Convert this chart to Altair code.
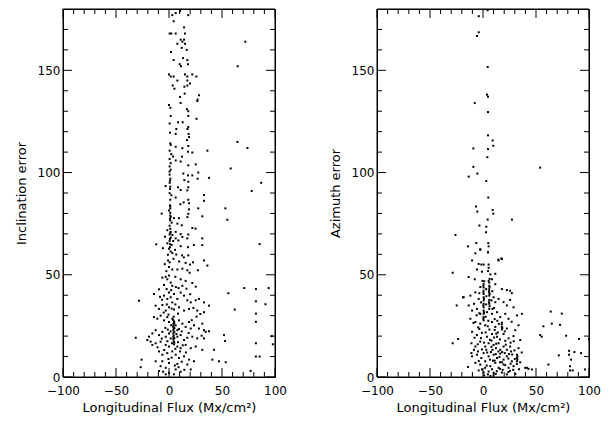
import altair as alt
import pandas as pd

# ---- data (flux in Mx/cm^2, error in degrees) ----
incl_points = [
    (3.1,177),(6.3,178),(10.4,179),(18.2,177),(4.4,174),(14.2,171),(0.6,168),(2.2,168),(6.3,168),(15.1,168),
    (11,165),(14.2,165),(12.6,164),(7.9,163),(15.1,163),(12,161),(16.7,160),(1.9,159),(13.2,156),(17.3,155),
    (4.4,155),(10.1,153),(17.9,153),(11.3,152),(64.8,152),(0,148),(1.6,147),(4.4,147),(15.1,148),(17.3,147),
    (22,148),(25.8,147),(7.9,145),(17.3,145),(19.8,143.6),(3.5,142.6),(17.3,142.6),(14.5,142),(5.1,141),(14.8,138.6),
    (28.3,137.8),(10.4,137),(27,135.7),(26.7,135),(11,134),(0,133),(1.3,131.7),(17,131),(18.2,130),(1.6,127.7),
    (18.2,127.7),(26,126.3),(0.6,124),(8.5,124.6),(12.9,124.6),(18.2,122.3),(17.5,121.3),(6.9,121.3),(1,119.5),(6.3,118.9),
    (18.5,118.9),(72,164),
    (18.9,117.4),(17,115.9),(64.5,115),(1.2,114.3),(1.6,113.5),(6.3,112.6),(18.2,113),(12.6,111.9),(0.6,110.7),(17.9,110.2),
    (22,109.8),(36.2,110.7),(2.2,109),(3.8,107.8),(12.3,107.8),(0.6,106.6),(6.3,105.9),(11,105.4),(1.6,104.6),(25.2,104),
    (0.6,103),(18.2,103.5),(58.2,102),(1.6,101.4),(27.6,100),(13.5,99.5),(0.6,99),(17.9,98.6),(22,98.6),(37.7,97.4),
    (1.2,97),(14.5,96.3),(18.2,95.5),(27,97),(0.6,95),(-3.2,93.4),(1.2,93.1),(8.5,92.8),(18.2,92.8),(11,91.5),
    (17.3,91.3),(0.6,89.9),(2.2,88.9),(33,89),(6.3,87.8),(1.2,86.7),(18.2,86.7),(13.8,85.4),(10.7,84.5),(18.9,85),
    (33,86.2),(1.2,83.5),(1.2,82.5),(0,81.4),(18.9,82),(27.6,82.5),(53.2,82.5),(1.2,80.3),(18.2,79.8),(-6.9,79.9),
    (1.6,78.2),(4.7,77.7),(9.4,77.7),(17.3,78.2),(31.4,78.6),(55,76.9),(1.2,76.6),(2.5,75.5),(7.9,75),(12,74.2),
    (0.6,74),(22,72.9),(25,72.6),(-1.6,71.8),(1.6,71),(6.3,71),(0.6,69.7),(3.2,69.5),(11,69.9),(18.2,69.7),
    (31.4,67.8),(-3.8,68.6),(1.6,68.2),(0.6,66.5),(4,66.5),(6.3,67.8),(8.8,66.8),(12.6,68.5),(17.3,67.8),(-1.6,65.4),
    (2.5,64.6),(-12,64.9),(23.5,64.6),(-5.7,63),(0,62.7),(5.7,62.2),(11,64),(17.9,63.5),(31.4,64.5),(1.6,61.4),
    (3.2,60.6),(12.3,59.5),(18.2,59.5),(-1,59.8),(74,112),(87,95),(78,91),(85.5,65),
    (0.9,63.5),(0.9,65),(0.9,67.5),(1.2,70.5),(1.2,72.5),(0.9,77.3),(1.2,79),(0.9,84),(0.9,92),(1,96),(0.5,100.5),
    (6.9,59.9),(-0.9,57),(0.6,56.1),(15.7,55.8),(19.8,55),(22.6,56.1),(33,57),(36.2,54.5),(0,53.8),(3.1,52.6),
    (7.9,52.6),(-2.5,51.8),(17.3,52.2),(19.5,51),(12.6,53),(27.3,52.2),(-6.3,48.6),(-3.1,49),(-1.6,47.8),(0,49.7),
    (1.6,46.2),(3.1,44.6),(11,47.8),(12.6,44.6),(15.7,47),(25.2,44.2),(-14.2,40.6),(-9.4,42.9),(-4.7,39.8),(-1.6,38.2),
    (0,41.3),(1.6,39),(3.1,36.5),(4.7,40.6),(7.9,38.2),(11,41.3),(14.2,39.8),(17.3,37.5),(20.5,36.5),(25.2,37.5),
    (28.3,38.2),(33,36.5),(37.7,34.9),(-28.3,37.3),(-12.6,34.9),(-9.4,33.3),(-6.3,35.2),(-3.1,32.5),(0,34.1),(4.7,33),
    (9.4,34.1),(14.2,32.5),(18.9,33.3),(26.7,32.5),(33,31.7),(-14.2,29.3),(-11,28.5),(-7.9,30),(-4.7,27.7),(-1.6,29.3),
    (0,26.9),(3.1,28.5),(4.1,26.1),(4.1,24.5),(4.1,22.9),(4.1,21.3),(4.1,19.7),(4.1,18.6),(4.7,27.2),(6.3,25.3),
    (7.9,22.9),(9.4,27.7),(12.6,26.1),(15.7,24.5),(18.9,26.9),(20.5,23.7),(23.6,25.3),(28.3,23.7),(31.4,26.1),(33,22.9),
    (34.6,22.1),(37.7,22.4),(-18.9,19.7),(-15.7,21.3),(-12.6,22.9),(-9.4,20.5),(-6.3,22.1),(-3.1,19.7),(0,21.3),(1.6,18.9),
    (7.9,19.7),(11,20.5),(14.2,18.1),(17.3,19.2),(22,19.7),(26.7,18.9),(30.8,20.2),(33,18.9),(-31.4,19.2),(51.9,20.5),
    (52.9,17.6),(-20.5,18.1),(-17.3,17.3),(-15.7,15.7),(-12.6,16.5),(-7.9,17.3),(-3.1,15.7),(0,14.9),(4.7,16),(7.9,14.9),
    (11,14.1),(15.7,15.7),(20.5,14.1),(25.2,14.9),(31.4,13.3),(42.4,13.3),(-9.4,12.5),(-6.3,10.9),(-1.6,11.7),(3.1,12.5),
    (6.3,10.9),(9.4,9.3),(14.2,10.1),(18.9,8.5),(23.6,7.7),(40.9,8.5),(-25.8,8.5),(-12.6,7.7),(-6.3,7.7),(0,6.9),
    (7.9,6.4),(17.3,6.1),(-7.9,5.3),(-3.1,4.5),(6.3,3.7),(20.5,3.7),(-26.7,4.8),(-9.4,2.9),(0,2.1),(11,2.6),
    (-3.1,1.3),(4.7,1.3),(47.2,7.7),(53.5,7.2),
    (4.4,17.5),(4.4,20.3),(4.4,23.7),(4.4,25.3),(3.8,28),(4.4,29.5),(5,16.8),(5,19),(5,22),(5,24),(5,26.5),
    (56,41),(71,43.5),(82,43),(94,43.5),(82,37),(91,35.6),(62,33),(82,31),(82,27),(82,16.5),
    (98,16),(97,20),(82,10),(85.5,10),(77,3),
    (-4.7,45),(-2.2,43),(2,42.5),(6.5,44),(9,43.5),(-6.5,37.8),(-8.5,39.2),(-2,35.5),(2.5,33.5),(6,35.5),
    (8.5,31),(-5,31.5),(-0.5,30.5),(2,25.3),(-3.5,24),(-1.2,23.2),(1.5,22.3),(7,21),(9.5,23.5),(12,22.3),
    (-6.8,18.8),(-1.5,17.5),(2.8,16.5),(6,13.8),(8.5,17),(10.5,12.5),(13,15.5),(16,12),(-4.5,13.2),(-10.8,14.5),
    (2.5,9.5),(12,7.5),(-0.5,8.8),(5.5,5.6),(9,4.8),(14.5,3.5),(-5.5,2.6),(18.5,21.5),(21.5,27.8),(26,29.5),
    (29.5,30.8),(23,33.8),(20,40.5),(16.5,43.2),(22,46),(6,49),(9.5,56.5),(4.2,57.8),(-4,55.2),(14,58.5),
]

azim_points = [
    (4.4,179.4),(-4,176.5),(-4,168.6),(-5.6,166.8),(4.4,151.6),(3.8,138.1),(4.7,137.1),(-7.8,134),(4.7,129.6),(4.7,118.2),
    (9.1,115.7),(9.7,113.1),(-9.1,111.8),(4.7,111.5),(4.1,107.5),(-9.1,102.8),(53.9,102.4),(-5.3,99.5),(-13.5,98),(3.1,95.9),
    (5,87.8),(-6.6,83.4),(9.1,81.7),(9.7,79.9),(-5.3,80.9),(4.4,77),(27.3,77),(-3.4,74.1),(3.1,73.5),(2.8,70.8),
    (-26,69.5),(-6.3,65.5),(5,65.5),(-14.1,63.9),(5.3,63.9),(-2.5,62.2),(4.7,61),(14.4,57.4),(17.9,57.7),(-7.2,60.5),
    (-1.6,55),(5.3,53.4),
    (-2.6,62.5),(4.7,61),(-10.3,57),(14.7,57),(17.2,58),(-4.1,55.3),(0.6,55),(5.3,55),(-28.6,51),(-5.7,52.6),
    (-1,51.5),(4.7,51.8),(6.9,50.2),(11.6,50.5),(-13.5,48.9),(-7.8,47.8),(-0.4,47),(5.3,47),(8.5,47.8),(11.6,45.4),
    (22.5,42.5),(25.6,42.2),(27.2,41),(17.8,43),(-18.2,39),(-11.9,39.8),(-7.2,41.4),(-4.1,38.2),
    (0.6,45.4),(0.6,43.8),(0.6,42.2),(0.6,40.6),(0.6,39),(0.6,37.4),(0.6,35.8),(0.6,34.1),(0.6,32.5),(0.6,30.9),
    (0.6,29.3),(0.6,27.7),(5.9,46.2),(5.9,44.6),(5.9,43),(5.9,41.4),(5.9,39.8),(5.9,37.7),(5.9,35.8),(5.9,33.3),
    (10,39),(11.6,36.6),(14.7,38.2),(19.4,36.6),(22.5,35),(25.6,37.7),(28.8,34.1),(-24.8,35),(-13.5,35),(-10.3,32.5),
    (-5.7,33.3),(-2.6,30.9),(3.7,31.7),(8.5,30.9),(13.2,31.7),(16.3,29.3),(21,30.9),(24.1,28.5),(32,30.1),(36.7,30.9),
    (-11.9,28.5),(-7.2,26.9),(-2.6,26.1),(2.1,25.3),(8.5,26.9),(11.6,24.5),(17.8,25.8),(17.8,24.5),(17.8,23.3),(22.5,23.7),
    (30.4,22.9),(33.5,25.3),(57,24.8),(53.9,20.5),(55.4,19.7),(-10.3,22.1),(-5.7,20.5),(-1,21.6),(3.7,19.7),(8.5,21),
    (13.2,19.7),(19.4,21),(24.1,18.9),(28.8,20),(35.1,18.1),(-28.6,16.5),(-10.9,16.5),(-7.2,14.9),(-2.6,17.3),(2.1,14.9),
    (5.3,16.5),(10,15.7),(12.2,14.1),(14.7,16.5),(16.3,13.3),(19.4,14.9),(22.5,13.3),(25.6,14.9),(29.7,13),(33.5,14.1),
    (-10.9,11.7),(-10.3,10.1),(-5.7,10.9),(0.6,11.7),(5.3,10.1),(10,10.9),(13.2,9.3),(16.3,11.4),(19.4,8.5),(22.5,10.1),
    (27.2,7.7),(32,10.9),(32,9.3),(32,7.7),(32,6.4),(35.1,7.2),(-7.2,6.9),(-2.6,6.1),(2.1,7.7),(6.9,5.3),
    (11.6,6.9),(14.7,4.5),(19.4,6.1),(24.1,4.5),(28.8,5.3),(39.8,4.5),(42.9,4),(-14.1,4.9),(-4.1,3.2),(0.6,2.2),
    (5.3,2.7),(10,2.1),(17.8,2.2),(22.5,1.3),(4.7,1.3),(61.7,6.1),
    (71.5,10.6),(64.9,26.1),(63.9,32),(74.3,31),(72.7,25.5),(78.4,20.2),(81.2,10.9),(81.2,12.8),(83.1,8.5),(86.2,12.2),
    (90.6,18.6),(92.5,11.7),(82.1,5.3),(82.1,3.2),(84.6,3.2),(96.2,3.7),(100,18.6),(46.1,3.7),(41.4,4.5),(-23.5,18.6),
    (-18.8,39),
    (0.3,44.6),(0.3,41.4),(0.9,38.2),(0.3,35),(0.9,31.7),(0.3,28.5),(1.2,46.8),(6.2,48),(6.2,44),(5.6,42),
    (6.2,40.6),(5.6,36.6),(6.2,34.6),(17.8,26.6),(18.2,24),(32.5,8.5),(32.5,10.2),
    (-8.5,13.3),(-4.7,12.5),(-1.6,9.3),(3.1,13.3),(7.5,12.2),(9.4,8),(12,11.2),(15.5,9.8),(18,7.2),(20.5,11.7),
    (24,9),(26.5,12.5),(28.5,3.5),(8,17.8),(11,23),(14,21.8),(21,17.7),(-8,19.2),(-3.5,23.5),(2.5,21.8),
    (6,23.2),(13.5,27.5),(-6,30.2),(9,33.3),(27,27),(-1,3.7),(10,0.8),(16,4),(24,2.4),(30.5,1.5),(3.5,5.6),
    (-2.5,44),(3,43),(8.8,42),(-3.5,41),(3.2,39.5),(8,37.5),(-1.8,36.5),(3,35.5),(-8.5,35.8),(10.5,33.8),
    (-3.5,31.2),(2.5,29.5),(11,28.3),(-9,26.5),(5,27.5),(15,26),(-4.5,24.3),(4.5,24.8),(12.5,21.2),(20.5,22.3),
    (-2,19),(6.5,18.2),(10.5,19.3),(16,18.4),(26,16.8),(29,17.5),(-5,16),(1,16.8),(8,14.8),(12.5,16.3),
    (18,12.2),(21.5,15.8),(27.5,11),(-1,13.5),(4,12),(9,13.3),(14.5,12.5),(24.5,11.2),(6.5,8.5),(11,8),
    (16,7.2),(21,5.8),(26,6.5),(30,8.8),(-4,7.8),(2,4.5),(8.5,3.8),(13,2.8),(18.5,3.5),(25.5,3),
    (1,0.8),(7,0.5),(12,1.5),(34,3.8),(36.5,12),
]

# axis ranges, labelled (major) ticks and minor ticks every 10
x_range = [-100, 100]
y_range = [0, 180]
x_major = [-100, -50, 0, 50, 100]
x_minor = [-90, -80, -70, -60, -40, -30, -20, -10, 10, 20, 30, 40, 60, 70, 80, 90]
y_major = [0, 50, 100, 150]
y_minor = [10, 20, 30, 40, 60, 70, 80, 90, 110, 120, 130, 140, 160, 170]

x_title = "Longitudinal Flux (Mx/cm²)"
W, H = 212, 368
MAJOR_PX, MINOR_PX = 9, 5
FONT = "DejaVu Sans"

# inward tick lengths expressed in data units of each axis
ux = (x_range[1] - x_range[0]) / W
uy = (y_range[1] - y_range[0]) / H


def frame_and_ticks():
    x0, x1 = x_range
    y0, y1 = y_range
    segs = [(x0, x1, y0, y0), (x0, x1, y1, y1), (x0, x0, y0, y1), (x1, x1, y0, y1)]
    for vals, px in ((x_major, MAJOR_PX), (x_minor, MINOR_PX)):
        for v in vals:
            segs.append((v, v, y0, y0 + px * uy))
            segs.append((v, v, y1, y1 - px * uy))
    for vals, px in ((y_major, MAJOR_PX), (y_minor, MINOR_PX)):
        for v in vals:
            segs.append((x0, x0 + px * ux, v, v))
            segs.append((x1, x1 - px * ux, v, v))
    return pd.DataFrame(segs, columns=["xa", "xb", "ya", "yb"])


seg_df = frame_and_ticks()


def panel(points, ytitle):
    df = pd.DataFrame(points, columns=["flux", "err"])
    xs = alt.Scale(domain=x_range, nice=False, zero=False)
    ys = alt.Scale(domain=y_range, nice=False, zero=False)

    pts = alt.Chart(df).mark_square(size=4, color="black", opacity=1).encode(
        x=alt.X("flux:Q", scale=xs, axis=alt.Axis(
            values=x_major, ticks=False, domain=False, grid=False, title=x_title,
            labelPadding=8, titlePadding=5, labelFlush=False, titleFontWeight="normal")),
        y=alt.Y("err:Q", scale=ys, axis=alt.Axis(
            values=y_major, ticks=False, domain=False, grid=False, title=ytitle,
            labelPadding=3, titlePadding=9, labelFlushOffset=2, titleFontWeight="normal")),
    )

    segs = alt.Chart(seg_df).mark_rule(color="black", strokeWidth=1, opacity=1).encode(
        x=alt.X("xa:Q", scale=xs),
        x2="xb:Q",
        y=alt.Y("ya:Q", scale=ys),
        y2="yb:Q",
    )

    return alt.layer(pts, segs).properties(width=W, height=H)


left = panel(incl_points, "Inclination error")
right = panel(azim_points, "Azimuth error")

chart = alt.hconcat(left, right, spacing=102, bounds="flush").properties(
    padding={"left": 6, "top": 0, "right": 0, "bottom": 0}
).configure_view(
    stroke="black", strokeWidth=1
).configure_axis(
    labelFont=FONT, titleFont=FONT, labelFontSize=12, titleFontSize=13,
    titleFontWeight="normal", labelColor="black", titleColor="black",
)

chart.save("out.html", embed_options={"renderer": "svg", "actions": False})
